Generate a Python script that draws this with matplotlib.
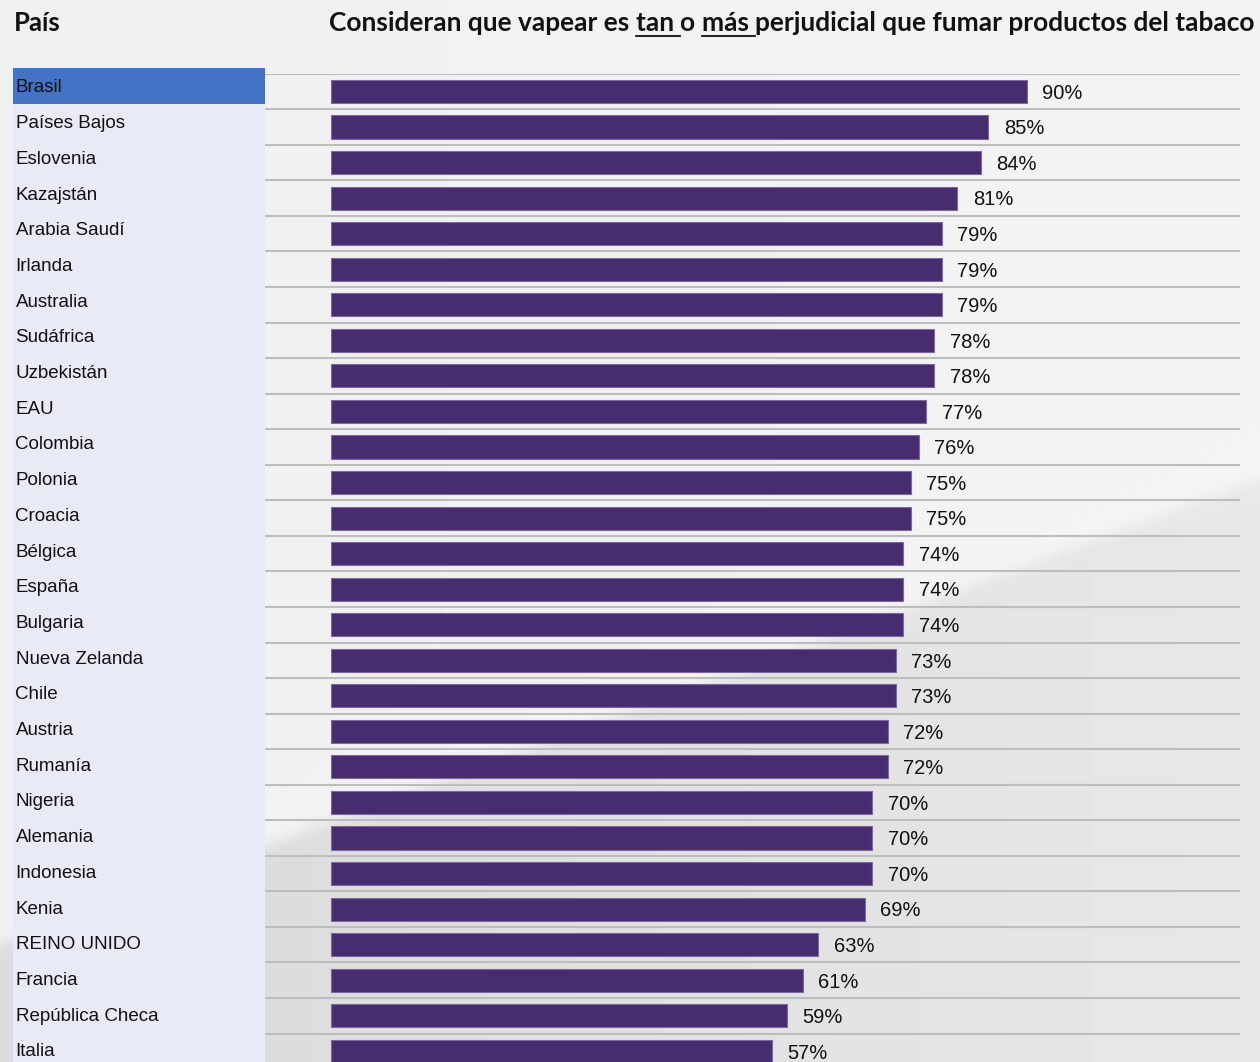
import numpy as np
import matplotlib.pyplot as plt
from matplotlib.lines import Line2D

paises = ['Brasil', 'Países Bajos', 'Eslovenia', 'Kazajstán', 'Arabia Saudí', 'Irlanda',
          'Australia', 'Sudáfrica', 'Uzbekistán', 'EAU', 'Colombia', 'Polonia', 'Croacia',
          'Bélgica', 'España', 'Bulgaria', 'Nueva Zelanda', 'Chile', 'Austria', 'Rumanía',
          'Nigeria', 'Alemania', 'Indonesia', 'Kenia', 'REINO UNIDO', 'Francia',
          'República Checa', 'Italia']
valores = [90, 85, 84, 81, 79, 79, 79, 78, 78, 77, 76, 75, 75, 74, 74, 74, 73, 73,
           72, 72, 70, 70, 70, 69, 63, 61, 59, 57]

titulo_partes = ['Consideran que vapear es ', 'tan ', 'o ', 'más ',
                 'perjudicial que fumar productos del tabaco']
subrayado = [False, True, False, True, False]

W, H = 1260, 1062
fig = plt.figure(figsize=(W / 100, H / 100), dpi=100)

# fondo gris con una franja diagonal clara
bg = fig.add_axes([0, 0, 1, 1])
yy, xx = np.mgrid[0:H:2, 0:W:2].astype(float)
# borde diagonal de (270,843) a (1260,477)
d = ((xx - 270) * (477 - 843) - (yy - 843) * (1260 - 270)) / np.hypot(990, 366)
arriba = 0.94 + 0.015 * (xx / W) + 0.01 * np.exp(-np.clip(d, 0, None) / 30)
abajo = 0.865 + 0.045 * np.clip((xx - 265) / 995, 0, 1)
mezcla = 1 / (1 + np.exp(-d / 4))
img = mezcla * arriba + (1 - mezcla) * abajo
bg.imshow(img, cmap='gray', vmin=0, vmax=1, extent=[0, W, H, 0],
          interpolation='bilinear', aspect='auto')
bg.set_xlim(0, W)
bg.set_ylim(H, 0)
bg.axis('off')

# panel izquierdo
top_l = 68
axl = fig.add_axes([13 / W, 0, 252 / W, (H - top_l) / H])
pitch_l = 35.7
axl.set_ylim(-0.5 + (H - top_l) / pitch_l, -0.5)
axl.set_xlim(0, 1)
axl.set_facecolor('#e8eaf6')
axl.axhspan(-0.5, 0.5, color='#4472c4', lw=0)
for i, p in enumerate(paises):
    axl.text(2.5 / 252, i + 0.06, p, va='center', ha='left', fontsize=13.5,
             family='Liberation Sans', color='#111111')
axl.set_xticks([])
axl.set_yticks([])
for s in axl.spines.values():
    s.set_visible(False)

# barras
x0, x1 = 265, 1240
zero = 331
escala = (1027 - 331) / 90
top_b = 73.7
pitch = 35.55
ax = fig.add_axes([x0 / W, 0, (x1 - x0) / W, (H - top_b) / H])
ax.patch.set_alpha(0)
ax.set_xlim((x0 - zero) / escala, (x1 - zero) / escala)
ax.set_ylim(-0.5 + (H - top_b) / pitch, -0.5)
pos = np.arange(len(paises))
for b in np.arange(-0.5, len(paises) - 0.5, 1):
    ax.axhline(b, color='#bdbdbd', lw=1.5, zorder=1)
ax.barh(pos, valores, height=0.65, color='#472c6f', edgecolor='#7d68a3',
        linewidth=0.8, zorder=2)
for i, v in enumerate(valores):
    ax.text(v + 2.0, i + 0.05, f'{v}%', va='center', ha='left', fontsize=14.5,
            family='Liberation Sans', color='#111111')
ax.set_xticks([])
ax.set_yticks([])
for s in ax.spines.values():
    s.set_visible(False)

# encabezados
fig.text(14 / W, 1 - 31 / H, 'País', fontsize=18.5, fontweight='bold',
         family='Lato', va='baseline', ha='left', color='#111111')

renderer = fig.canvas.get_renderer()
fs = 18.5
# ajustar el tamaño para que el titulo ocupe el mismo ancho
t = fig.text(0, 0, ''.join(titulo_partes), fontsize=fs, fontweight='bold', family='Lato')
ancho = t.get_window_extent(renderer).width
t.remove()
fs = fs * 928 / ancho

x = 329
for parte, sub in zip(titulo_partes, subrayado):
    t = fig.text(x / W, 1 - 31 / H, parte, fontsize=fs, fontweight='bold',
                 family='Lato', va='baseline', ha='left', color='#111111')
    ext = t.get_window_extent(renderer)
    if sub:
        fig.add_artist(Line2D([ext.x0 / W, ext.x1 / W], [1 - 36 / H, 1 - 36 / H],
                              color='#111111', lw=1.3))
    x = ext.x1

fig.savefig('out.png', dpi=100)
